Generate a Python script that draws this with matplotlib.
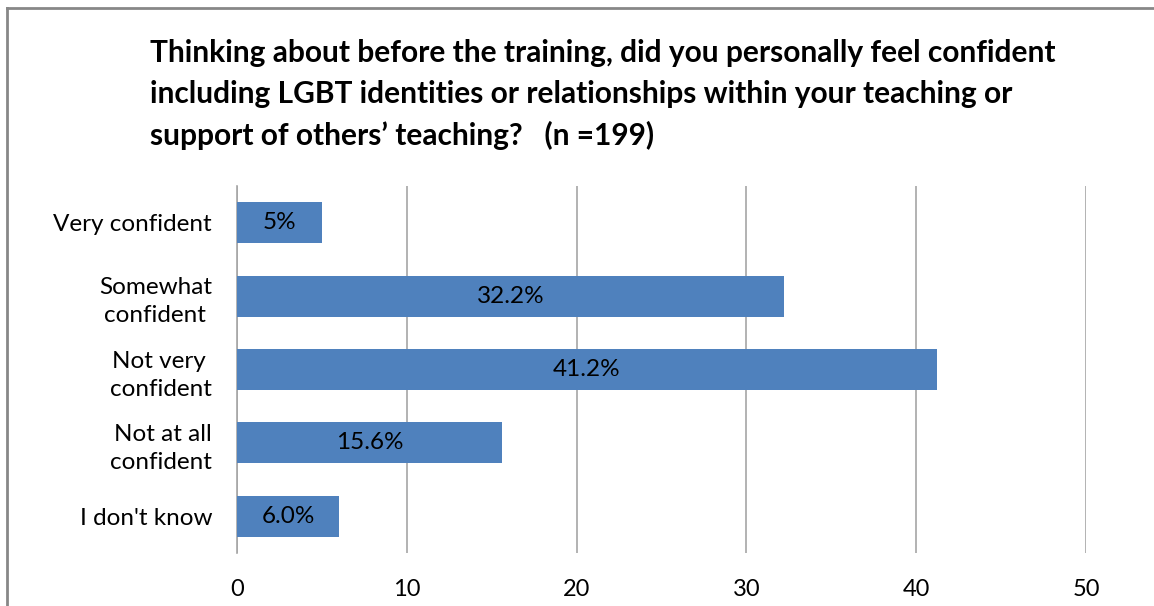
import matplotlib.pyplot as plt
from matplotlib.lines import Line2D

categories = [
    "Very confident",
    "Somewhat\nconfident ",
    "Not very \nconfident",
    "Not at all\nconfident",
    "I don't know",
]
values = [5.0, 32.2, 41.2, 15.6, 6.0]
bar_labels = ["5%", "32.2%", "41.2%", "15.6%", "6.0%"]
x_ticks = [0, 10, 20, 30, 40, 50]

title = (
    "Thinking about before the training, did you personally feel confident\n"
    "including LGBT identities or relationships within your teaching or\n"
    "support of others\u2019 teaching?   (n =199)"
)

plt.rcParams["font.family"] = ["Lato", "DejaVu Sans"]

W, H = 1154, 606
fig = plt.figure(figsize=(W / 100, H / 100), dpi=100)

# chart frame (only left and top edges are visible in the crop)
fig.add_artist(Line2D([7 / W, 7 / W], [0, 1 - 8 / H], transform=fig.transFigure,
                      color="#878787", lw=2))
fig.add_artist(Line2D([7 / W, 1], [1 - 8 / H, 1 - 8 / H], transform=fig.transFigure,
                      color="#878787", lw=2))

fig.text(150 / W, 1 - 39 / H, title, ha="left", va="top", fontsize=21.5,
         fontweight="bold", linespacing=1.56)

ax = fig.add_axes([237 / W, 1 - 553 / H, (1086 - 237) / W, (553 - 186) / H])
ypos = list(range(len(categories)))
bars = ax.barh(ypos, values, height=0.56, color="#4F81BD", zorder=3)
for b, lab in zip(bars, bar_labels):
    ax.text(b.get_x() + b.get_width() / 2, b.get_y() + b.get_height() / 2, lab,
            ha="center", va="center", fontsize=17.5, zorder=4)

ax.set_xlim(0, 50)
ax.set_ylim(len(categories) - 0.5, -0.5)
ax.set_xticks(x_ticks)
ax.set_yticks(ypos)
ax.set_yticklabels(categories, fontsize=17.5, linespacing=1.42)
ax.tick_params(axis="x", labelsize=17, length=0, pad=19)
ax.tick_params(axis="y", length=0, pad=18)
for lab in ax.get_yticklabels():
    lab.set_multialignment("right")
ax.grid(axis="x", color="#A6A6A6", lw=1.2, zorder=0)
for side in ["top", "right", "bottom"]:
    ax.spines[side].set_visible(False)
ax.spines["left"].set_color("#A6A6A6")
ax.spines["left"].set_linewidth(1.2)

fig.savefig("out.png", dpi=100)
